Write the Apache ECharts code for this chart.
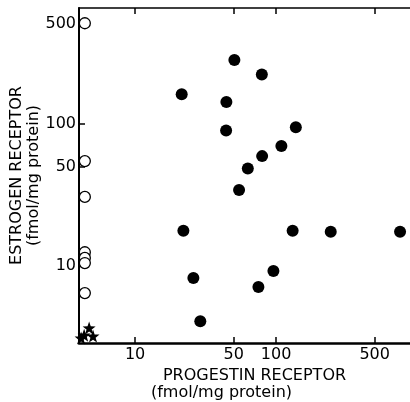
<!DOCTYPE html>
<html><head><meta charset="utf-8">
<script src="https://cdn.jsdelivr.net/npm/echarts@6/dist/echarts.min.js"></script>
<style>html,body{margin:0;padding:0;background:#fff;overflow:hidden}#c{width:410px;height:402px}</style>
</head><body><div id="c"></div>
<script>
const tickValues = [10, 50, 100, 500];
const xTitle = 'PROGESTIN RECEPTOR';
const yTitle = 'ESTROGEN RECEPTOR';
const unitTitle = '(fmol/mg protein)';
// filled circles: progestin receptor (x) and estrogen receptor (y)
const filledPR = [50.6, 79.2, 21.4, 44.4, 44.2, 138, 109, 79.6, 63, 54.6, 22, 131, 244, 757, 25.9, 95.7, 74.9, 29.0];
const filledER = [280, 222, 161, 142, 89.7, 94.6, 69.6, 59.2, 48.5, 34.2, 17.7, 17.7, 17.4, 17.4, 8.24, 9.22, 7.12, 4.09];
// open circles
const openPR = [4.4, 4.4, 4.4, 4.4, 4.4, 4.4, 4.4];
const openER = [508, 54.6, 30.6, 12.5, 11.4, 10.5, 6.46];
// stars
const starPR = [4.35, 4.72, 5.03, 4.14];
const starER = [3.27, 3.67, 3.22, 3.12];

const zip = (a, b) => a.map((v, i) => [v, b[i]]);
const font = 'DejaVu Sans';
const starPath = 'path://M0,-10L2.35,-3.24L9.51,-3.09L3.8,1.24L5.88,8.09L0,4L-5.88,8.09L-3.8,1.24L-9.51,-3.09L-2.35,-3.24Z';

const X_MIN = 4, X_MAX = 920, Y_MIN = 2.88, Y_MAX = 650;

const chart = echarts.init(document.getElementById('c'), null, {renderer: 'canvas'});
const baseAxis = {
  type: 'log', logBase: 10,
  splitLine: {show: false},
  minorTick: {show: false},
  axisLine: {show: true, onZero: false, lineStyle: {color: '#000', width: 2}},
  axisTick: {show: true, inside: true, length: 6, lineStyle: {color: '#000', width: 1.5}, customValues: tickValues},
  axisLabel: {show: true, color: '#000', fontFamily: font, fontSize: 16, customValues: tickValues}
};
chart.setOption({
  animation: false,
  backgroundColor: '#fff',
  grid: {left: 79, right: -2, top: 8, bottom: 59, containLabel: false, outerBoundsMode: 'none'},
  xAxis: [
    Object.assign({}, baseAxis, {
      min: X_MIN, max: X_MAX, position: 'bottom',
      axisLine: {show: true, onZero: false, lineStyle: {color: '#000', width: 2.5}},
      axisLabel: Object.assign({}, baseAxis.axisLabel, {margin: 4}),
      name: '{t|' + xTitle + '}\n{s|' + unitTitle + '}',
      nameLocation: 'middle', nameGap: 24,
      nameTextStyle: {
        color: '#000', fontFamily: font, fontSize: 16, padding: [0, 0, 0, 18],
        rich: {
          t: {fontFamily: font, fontSize: 16, color: '#000', lineHeight: 17},
          s: {fontFamily: font, fontSize: 16, color: '#000', lineHeight: 17, padding: [0, 66, 0, 0]}
        }
      }
    }),
    Object.assign({}, baseAxis, {
      min: X_MIN, max: X_MAX, position: 'top',
      axisLine: {show: true, onZero: false, lineStyle: {color: '#000', width: 1.5}},
      axisLabel: {show: false}
    })
  ],
  yAxis: [
    Object.assign({}, baseAxis, {
      min: Y_MIN, max: Y_MAX, position: 'left',
      axisLabel: Object.assign({}, baseAxis.axisLabel, {margin: 3}),
      name: '{t|' + yTitle + '}\n{s|' + unitTitle + '}',
      nameLocation: 'middle', nameGap: 37, nameRotate: 90, nameMoveOverlap: false,
      nameTextStyle: {
        color: '#000', fontFamily: font, fontSize: 16,
        rich: {
          t: {fontFamily: font, fontSize: 16, color: '#000', lineHeight: 17},
          s: {fontFamily: font, fontSize: 16, color: '#000', lineHeight: 17}
        }
      }
    })
  ],
  series: [
    {type: 'scatter', name: 'filled', data: zip(filledPR, filledER), symbol: 'circle', symbolSize: 12,
     itemStyle: {color: '#000', opacity: 1}},
    {type: 'scatter', name: 'open', data: zip(openPR, openER), symbol: 'circle', symbolSize: 11,
     itemStyle: {color: '#fff', borderColor: '#000', borderWidth: 1.3, opacity: 1}},
    {type: 'scatter', name: 'star', data: zip(starPR, starER), symbol: starPath, symbolSize: 13,
     itemStyle: {color: '#000', opacity: 1}}
  ]
});
</script></body></html>
